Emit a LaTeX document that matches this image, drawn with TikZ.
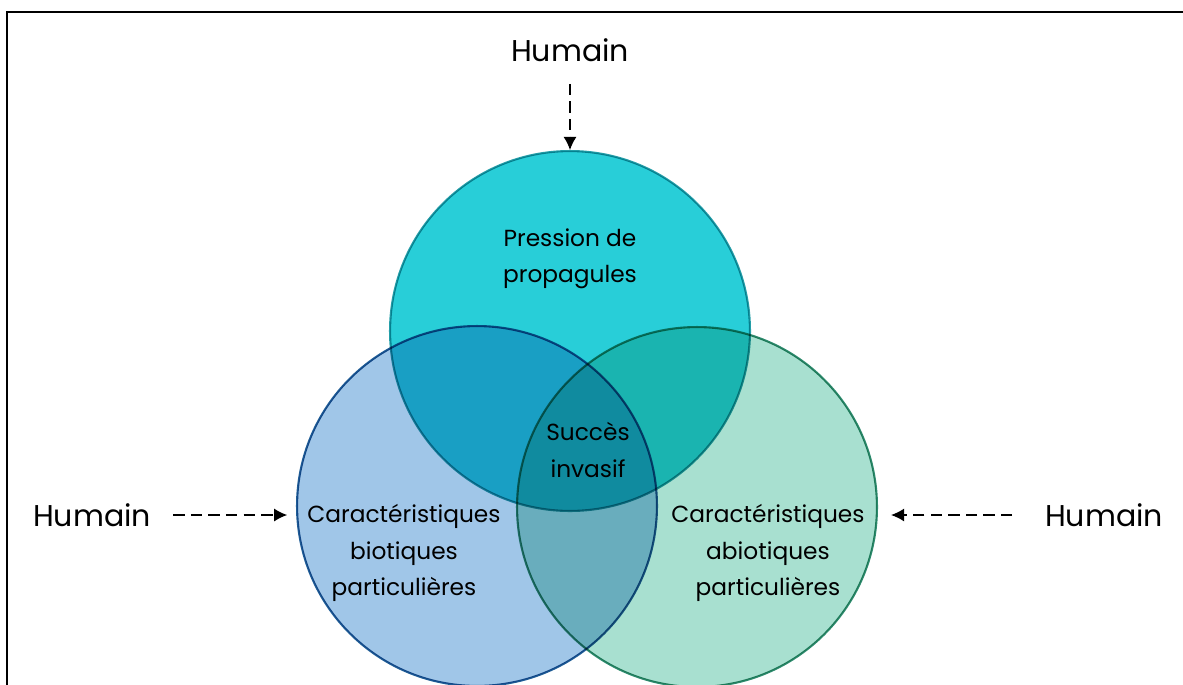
\documentclass[tikz,border=0pt]{standalone}
\usepackage{fontspec}
\setmainfont{Poppins}
\usetikzlibrary{arrows.meta,positioning,calc}

\definecolor{propagfill}{RGB}{40,206,216}
\definecolor{propagdraw}{RGB}{36,158,168}
\definecolor{biotfill}{RGB}{160,198,232}
\definecolor{biotdraw}{RGB}{31,93,150}
\definecolor{abiotfill}{RGB}{168,224,208}
\definecolor{abiotdraw}{RGB}{46,139,110}

\begin{document}
\begin{tikzpicture}[x=0.02cm, y=-0.02cm,
    venn/.style={circle, minimum size=7.2cm, inner sep=0pt, line width=1.2pt},
    vennlabel/.style={align=center, font=\fontsize{13.25}{20.8}\selectfont},
    human/.style={font=\fontsize{17.1}{20}\selectfont, inner sep=0pt},
    humarrow/.style={-{Latex[length=7.5pt,width=7.5pt]}, line width=0.8pt, dash pattern=on 6.5pt off 3.5pt}]

    \clip (0,0) rectangle (1183,684);

    % Frame
    \draw [line width=1.2pt] (7,700) |- (1200,12);

    % Venn circles
    \begin{scope}[blend group=multiply]
        \node [venn, draw=propagdraw, fill=propagfill] (propag) at (570,331) {};
        \node [venn, draw=biotdraw, fill=biotfill] (biot) at (477,506) {};
        \node [venn, draw=abiotdraw, fill=abiotfill] (abiot) at (697,507) {};
    \end{scope}

    % Labels in the circles
    \node [vennlabel] (propaglabel) at (570,259) {Pression de\\propagules};
    \node [vennlabel] (succes) at (588,450) {Succès\\invasif};
    \node [vennlabel] (biotlabel) at (404,553) {Caractéristiques\\biotiques\\particulières};
    \node [vennlabel] (abiotlabel) at (768,553) {Caractéristiques\\abiotiques\\particulières};

    % Human pressure
    \node [human] (humtop) at (570,50) {Humain};
    \node [human] (humleft) at (92,515) {Humain};
    \node [human] (humright) at (1104,515) {Humain};

    \draw [humarrow, shorten <=12.5pt] (humtop.south) -- (propag.north);
    \draw [humarrow, shorten <=12.5pt, shorten >=5pt] (humleft.east) -- (humleft.east -| biot.west);
    \draw [humarrow, shorten <=18.5pt, shorten >=7.4pt] (humright.west) -- (humright.west -| abiot.east);

\end{tikzpicture}
\end{document}
